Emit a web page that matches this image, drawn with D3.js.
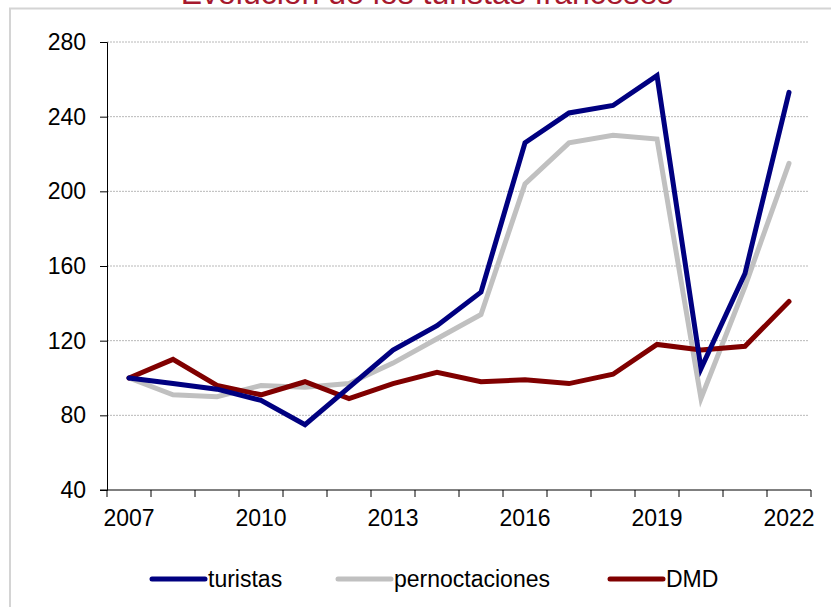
<!DOCTYPE html>
<html>
<head>
<meta charset="utf-8">
<script src="https://cdn.jsdelivr.net/npm/d3@7"></script>
<style>
  body { margin: 0; background: #fff; }
  svg { display: block; font-family: Arial, "Liberation Sans", sans-serif; }
</style>
</head>
<body>
<svg id="chart" width="831" height="607"></svg>
<script>
// data
var years = [2007, 2008, 2009, 2010, 2011, 2012, 2013, 2014, 2015, 2016, 2017, 2018, 2019, 2020, 2021, 2022];
var turistas = [100, 97, 94, 88, 75, 95, 115, 128, 146, 226, 242, 246, 262, 105, 156, 253];
var pernoctaciones = [100, 91, 90, 96, 95, 97, 108, 121, 134, 204, 226, 230, 228, 89, 149, 215];
var dmd = [100, 110, 96, 91, 98, 89, 97, 103, 98, 99, 97, 102, 118, 115, 117, 141];
var yTicks = [40, 80, 120, 160, 200, 240, 280];
var xLabels = [2007, 2010, 2013, 2016, 2019, 2022];
var seriesNames = ["turistas", "pernoctaciones", "DMD"];
var seriesColors = ["#000080", "#c0c0c0", "#800000"];

var svg = d3.select("#chart");

//outer frame (only top and left edges show)
svg.append("path")
  .attr("d", "M10,607 V8.5 H831")
  .attr("fill", "none")
  .attr("stroke", "#d4d4d4")
  .attr("stroke-width", 2);

//title, clipped at the top of the picture like in the original
svg.append("text")
  .attr("x", 427)
  .attr("y", 4)
  .attr("text-anchor", "middle")
  .attr("font-size", 32)
  .attr("fill", "#a6192e")
  .text("Evolución de los turistas franceses");

var x = d3.scaleBand().domain(years).range([107, 811]);
var y = d3.scaleLinear().domain([40, 280]).range([490, 42]);

//gridlines
svg.append("g").selectAll("line")
  .data(yTicks.slice(1))
  .enter().append("line")
  .attr("x1", 107).attr("x2", 808)
  .attr("y1", function(d){ return y(d); })
  .attr("y2", function(d){ return y(d); })
  .attr("stroke", "#b8b8b8")
  .attr("stroke-dasharray", "2,1");

//y axis
var yAxis = svg.append("g")
  .attr("transform", "translate(107,0)")
  .call(d3.axisLeft(y).tickValues(yTicks).tickSize(7).tickPadding(14));
yAxis.select(".domain").attr("stroke", "#000");
yAxis.selectAll("text").attr("font-size", 23).attr("fill", "#000").attr("font-family", "Arial, 'Liberation Sans', sans-serif");

//x axis: ticks between categories, labels every third year
var xg = svg.append("g");
xg.append("line")
  .attr("x1", 100).attr("x2", 811)
  .attr("y1", 490).attr("y2", 490)
  .attr("stroke", "#000");
var bounds = years.map(function(d){ return x(d); }).concat([x(years[years.length - 1]) + x.bandwidth()]);
xg.selectAll(".tick")
  .data(bounds)
  .enter().append("line")
  .attr("x1", function(d){ return d; }).attr("x2", function(d){ return d; })
  .attr("y1", 490).attr("y2", 497)
  .attr("stroke", "#000");
xg.selectAll("text")
  .data(xLabels)
  .enter().append("text")
  .attr("x", function(d){ return x(d) + x.bandwidth() / 2; })
  .attr("y", 526)
  .attr("text-anchor", "middle")
  .attr("font-size", 23)
  .text(function(d){ return d; });

//series lines
var line = d3.line()
  .x(function(d, i){ return x(years[i]) + x.bandwidth() / 2; })
  .y(function(d){ return y(d); });

[pernoctaciones, dmd, turistas].forEach(function(s) {
  var idx = s === turistas ? 0 : (s === pernoctaciones ? 1 : 2);
  svg.append("path")
    .datum(s)
    .attr("d", line)
    .attr("fill", "none")
    .attr("stroke", seriesColors[idx])
    .attr("stroke-width", 5)
    .attr("stroke-linecap", "round")
    .attr("stroke-linejoin", "miter");
});

//legend
var legendX = [152, 338, 610];
var lg = svg.append("g").selectAll("g")
  .data(seriesNames)
  .enter().append("g")
  .attr("transform", function(d, i){ return "translate(" + legendX[i] + ",579)"; });
lg.append("line")
  .attr("x1", 0).attr("x2", 53)
  .attr("stroke", function(d, i){ return seriesColors[i]; })
  .attr("stroke-width", 5)
  .attr("stroke-linecap", "round");
lg.append("text")
  .attr("x", 56)
  .attr("dy", "0.35em")
  .attr("font-size", 23)
  .text(function(d){ return d; });
</script>
</body>
</html>
